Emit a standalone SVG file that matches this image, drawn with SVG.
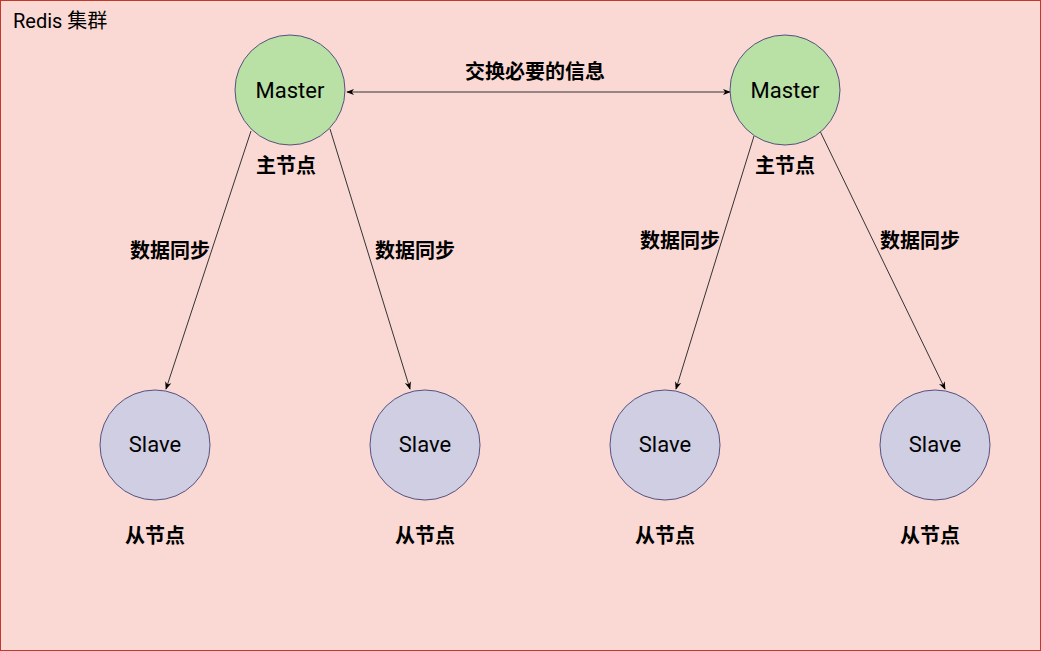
<svg xmlns="http://www.w3.org/2000/svg" width="1041" height="651" viewBox="0 0 1041 651">
<defs>
<marker id="ah" viewBox="0 0 10 10" refX="9" refY="5" markerWidth="8" markerHeight="8" orient="auto-start-reverse" markerUnits="userSpaceOnUse">
<path d="M0,1 L10,5 L0,9 L3,5 Z" fill="#000"/>
</marker>
<style>
.master{fill:#b9e0a5;stroke:#56517e;stroke-width:1}
.slave{fill:#d0cee2;stroke:#56517e;stroke-width:1}
.nt{font-family:Roboto,"Noto Sans CJK SC",sans-serif;font-size:22px;fill:#000;text-anchor:middle}
.lbl{font-family:Roboto,"Noto Sans CJK SC",sans-serif;font-size:20px;font-weight:bold;fill:#000;text-anchor:middle}
.edge{stroke:#333;stroke-width:1;fill:none}
</style>
</defs>
<rect x="0.5" y="0.5" width="1040" height="650" fill="#fad9d5" stroke="#c0392b" stroke-width="1"/>
<text x="13" y="28" font-family="Roboto,'Noto Sans CJK SC',sans-serif" font-size="20" fill="#000">Redis 集群</text>
<g id="connectors">
<line class="edge" x1="347" y1="92" x2="730" y2="92" stroke="#000" marker-start="url(#ah)" marker-end="url(#ah)"/>
<line class="edge" x1="251" y1="131" x2="166" y2="389" marker-end="url(#ah)"/>
<line class="edge" x1="330" y1="129" x2="410" y2="389" marker-end="url(#ah)"/>
<line class="edge" x1="754" y1="136" x2="676" y2="389" marker-end="url(#ah)"/>
<line class="edge" x1="819" y1="129" x2="945" y2="389" marker-end="url(#ah)"/>
<text class="lbl" x="535" y="79">交换必要的信息</text>
<text class="lbl" x="170" y="258">数据同步</text>
<text class="lbl" x="415" y="258">数据同步</text>
<text class="lbl" x="680" y="248">数据同步</text>
<text class="lbl" x="920" y="248">数据同步</text>
</g>
<g id="master1">
<circle class="master" cx="290" cy="90" r="55"/>
<text class="nt" x="290" y="98">Master</text>
<text class="lbl" x="286" y="173">主节点</text>
</g>
<g id="master2">
<circle class="master" cx="785" cy="90" r="55"/>
<text class="nt" x="785" y="98">Master</text>
<text class="lbl" x="785" y="173">主节点</text>
</g>
<g id="slave1">
<circle class="slave" cx="155" cy="445" r="55"/>
<text class="nt" x="155" y="452" font-size="20">Slave</text>
<text class="lbl" x="155" y="543">从节点</text>
</g>
<g id="slave2">
<circle class="slave" cx="425" cy="445" r="55"/>
<text class="nt" x="425" y="452">Slave</text>
<text class="lbl" x="425" y="543">从节点</text>
</g>
<g id="slave3">
<circle class="slave" cx="665" cy="445" r="55"/>
<text class="nt" x="665" y="452">Slave</text>
<text class="lbl" x="665" y="543">从节点</text>
</g>
<g id="slave4">
<circle class="slave" cx="935" cy="445" r="55"/>
<text class="nt" x="935" y="452">Slave</text>
<text class="lbl" x="930" y="543">从节点</text>
</g>
</svg>
